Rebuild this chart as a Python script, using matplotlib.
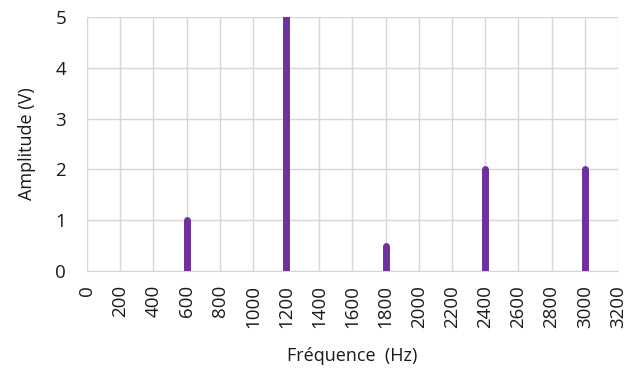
import matplotlib
matplotlib.use("Agg")
import matplotlib.pyplot as plt

freqs = [600, 1200, 1800, 2400, 3000]
amps = [1.0, 5.0, 0.5, 2.0, 2.0]
xticks = list(range(0, 3201, 200))
yticks = [0, 1, 2, 3, 4, 5]

plt.rcParams['font.family'] = ['Open Sans', 'DejaVu Sans']

fig = plt.figure(figsize=(6.37, 3.74), dpi=100)
ax = fig.add_axes([0.1366, 0.2754, 0.8334, 0.679])

ax.vlines(freqs, 0, amps, colors='#7030A0', linewidth=5.0, capstyle='round', zorder=3)

ax.set_xlim(0, 3200)
ax.set_ylim(0, 5)
ax.set_xticks(xticks)
ax.set_xticklabels([str(t) for t in xticks], rotation=90)
ax.set_yticks(yticks)
ax.grid(True, color='#d6d6d6', linewidth=1.0)
ax.set_axisbelow(True)
for s in ['top', 'right', 'left']:
    ax.spines[s].set_visible(False)
ax.spines['bottom'].set_color('#d6d6d6')
ax.tick_params(axis='both', length=0, labelsize=13.5, colors='#1a1a1a')
ax.tick_params(axis='y', pad=15)
ax.tick_params(axis='x', pad=10)
ax.set_xlabel('Fréquence  (Hz)', fontsize=13, color='#1a1a1a', labelpad=14)
ax.set_ylabel('Amplitude (V)', fontsize=13, color='#1a1a1a', labelpad=14)

fig.savefig('out.png', dpi=100)
